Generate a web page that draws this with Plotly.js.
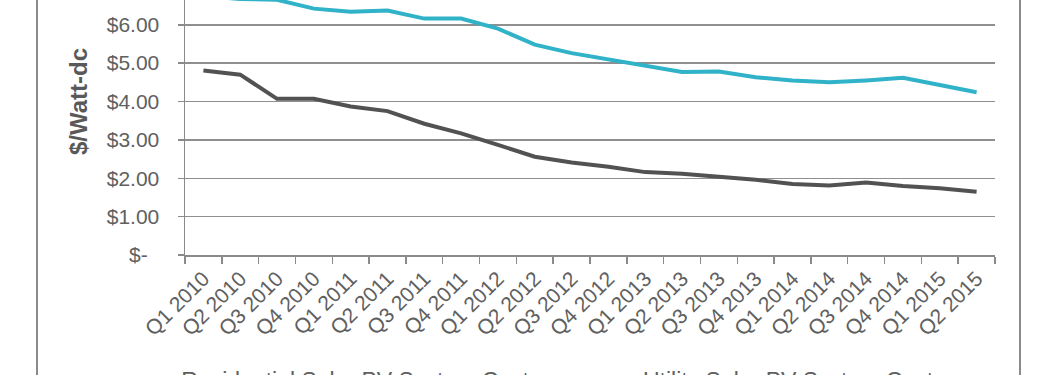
<!DOCTYPE html>
<html>
<head>
<meta charset="utf-8">
<script src="https://cdn.plot.ly/plotly-3.0.1.min.js"></script>
<style>
  html, body { margin: 0; padding: 0; background: #ffffff; overflow: hidden; width: 1050px; height: 375px; }
  #frame { position: absolute; left: 36px; top: -100px; width: 985px; height: 540px; border: 2px solid #8a8a8a; box-sizing: border-box; background: #fff; }
  #chart { width: 981px; height: 536px; }
</style>
</head>
<body>
<div id="frame"><div id="chart"></div></div>
<script>
const quarters = ["Q1 2010","Q2 2010","Q3 2010","Q4 2010","Q1 2011","Q2 2011","Q3 2011","Q4 2011",
  "Q1 2012","Q2 2012","Q3 2012","Q4 2012","Q1 2013","Q2 2013","Q3 2013","Q4 2013",
  "Q1 2014","Q2 2014","Q3 2014","Q4 2014","Q1 2015","Q2 2015"];
const residentialCost = [6.75,6.67,6.65,6.42,6.34,6.37,6.16,6.16,
  5.90,5.48,5.26,5.09,4.93,4.77,4.78,4.63,
  4.55,4.50,4.55,4.62,4.43,4.24];
const utilityCost = [4.81,4.70,4.07,4.07,3.87,3.75,3.42,3.17,
  2.87,2.56,2.41,2.30,2.16,2.12,2.04,1.96,
  1.85,1.81,1.89,1.80,1.74,1.65];
const yTickVals = [0,1,2,3,4,5,6];
const yTickText = ["$-\u00a0\u00a0","$1.00","$2.00","$3.00","$4.00","$5.00","$6.00"];
const seriesNames = ["Residential Solar PV System Cost","Utility Solar PV System Cost"];

const fontFam = '"Liberation Sans", Arial, Helvetica, sans-serif';
const traces = [
  { x: quarters, y: residentialCost, name: seriesNames[0], type: 'scatter', mode: 'lines',
    line: { color: '#30b2c8', width: 4 }, legend: 'legend' },
  { x: quarters, y: utilityCost, name: seriesNames[1], type: 'scatter', mode: 'lines',
    line: { color: '#525252', width: 4 }, legend: 'legend2' }
];
const legendFont = { size: 23, color: '#606060' };
const layout = {
  width: 981, height: 536,
  margin: { l: 147, r: 24, t: 46, b: 183 },
  paper_bgcolor: '#ffffff', plot_bgcolor: '#ffffff',
  font: { family: fontFam, color: '#606060', size: 21 },
  showlegend: true,
  legend: { orientation: 'h', x: -0.054, xanchor: 'left', y: -0.337, yanchor: 'top', font: legendFont },
  legend2: { orientation: 'h', x: 0.516, xanchor: 'left', y: -0.337, yanchor: 'top', font: legendFont },
  xaxis: {
    type: 'category', range: [-0.5, 21.5], tickangle: -45, tickson: 'boundaries', ticks: 'outside', ticklen: 7,
    tickcolor: '#8a8a8a', tickwidth: 1.5, showline: true, linecolor: '#8a8a8a', linewidth: 2,
    showgrid: false, zeroline: false, automargin: false, fixedrange: true, ticklabelstandoff: 1,
    tickfont: { size: 21, color: '#606060' }
  },
  yaxis: {
    range: [0, 8], tickvals: yTickVals, ticktext: yTickText, ticks: 'outside', ticklen: 6,
    tickcolor: '#8a8a8a', tickwidth: 1.5, showline: true, linecolor: '#8a8a8a', linewidth: 1.5,
    showgrid: true, gridcolor: '#8f8f8f', gridwidth: 1.5, zeroline: false, automargin: false,
    ticklabelstandoff: 14, fixedrange: true,
    tickfont: { size: 21, color: '#606060' },
    title: { text: '<b>$/Watt-dc</b>', standoff: 12, font: { size: 24, color: '#595959' } }
  }
};
Plotly.newPlot('chart', traces, layout, { displayModeBar: false, staticPlot: true });
</script>
</body>
</html>
